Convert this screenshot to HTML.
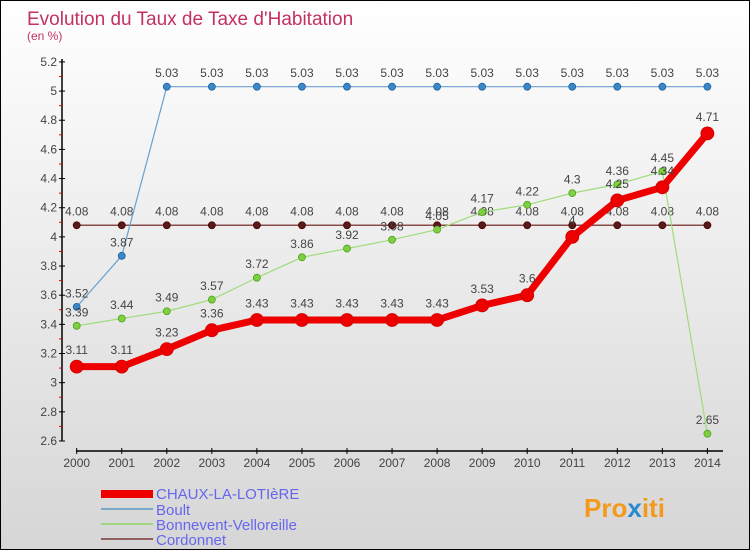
<!DOCTYPE html>
<html><head><meta charset="utf-8"><style>
body{margin:0}
#c{width:748px;height:548px;border:1px solid #000;position:relative;background:linear-gradient(#fff,#d6d6d6);font-family:"Liberation Sans",sans-serif;overflow:hidden}
</style></head><body>
<div id="c">
<svg id="s" width="748" height="548" xmlns="http://www.w3.org/2000/svg" font-family="Liberation Sans, sans-serif">
<text x="26" y="24" font-size="19" fill="#c3315f">Evolution du Taux de Taxe d'Habitation</text>
<text x="26" y="39" font-size="12" fill="#c3315f">(en %)</text>
<g id="g"></g>
<g>
<rect x="100" y="489" width="52" height="8" fill="#e00"/>
<text x="155" y="498" font-size="15" fill="#6666ee">CHAUX-LA-LOTIèRE</text>
<rect x="100" y="507" width="52" height="2" fill="#7aa8c8"/>
<text x="155" y="514" font-size="15" fill="#6666ee">Boult</text>
<rect x="100" y="522" width="52" height="2" fill="#9ed67e"/>
<text x="155" y="529" font-size="15" fill="#6666ee">Bonnevent-Velloreille</text>
<rect x="100" y="537" width="52" height="2" fill="#906060"/>
<text x="155" y="544" font-size="15" fill="#6666ee">Cordonnet</text>
</g>
<text x="583" y="516" font-size="26" font-weight="bold" fill="#f39a1e">Pro<tspan fill="#2a8ad0">x</tspan>iti</text>
</svg>
</div>
<script>
const years=[2000,2001,2002,2003,2004,2005,2006,2007,2008,2009,2010,2011,2012,2013,2014];
const chaux=[3.11,3.11,3.23,3.36,3.43,3.43,3.43,3.43,3.43,3.53,3.6,4,4.25,4.34,4.71];
const boult=[3.52,3.87,5.03,5.03,5.03,5.03,5.03,5.03,5.03,5.03,5.03,5.03,5.03,5.03,5.03];
const bonnevent=[3.39,3.44,3.49,3.57,3.72,3.86,3.92,3.98,4.05,4.17,4.22,4.3,4.36,4.45,2.65];
const cordonnet=[4.08,4.08,4.08,4.08,4.08,4.08,4.08,4.08,4.08,4.08,4.08,4.08,4.08,4.08,4.08];
const yTicks=[2.6,2.8,3,3.2,3.4,3.6,3.8,4,4.2,4.4,4.6,4.8,5,5.2];
const NS="http://www.w3.org/2000/svg";
const g=document.getElementById('g');
const xS=i=>75.7+i*45.05;
const yS=v=>440-(v-2.6)*145.8;
function el(t,a,p){const e=document.createElementNS(NS,t);for(const k in a)e.setAttribute(k,a[k]);(p||g).appendChild(e);return e;}
const fmt=v=>String(+v.toFixed(2));
// axes
let a=el('line',{x1:61,y1:58,x2:61,y2:440,stroke:'#000','stroke-width':1.5});


a=el('line',{x1:75,y1:450,x2:722,y2:450,stroke:'#000','stroke-width':1.5});


yTicks.forEach((v,i)=>{
 const y=yS(v);
 el('line',{x1:58,y1:y,x2:64,y2:y,stroke:'#000'});
 if(i<yTicks.length-1)el('line',{x1:58,y1:y-14.6,x2:61,y2:y-14.6,stroke:'#e00'});
 const t=el('text',{x:56,y:y+4,'font-size':12,fill:'#444','text-anchor':'end'});
 t.textContent=fmt(v);
 
 
});
years.forEach((yr,i)=>{
 const x=xS(i);
 el('line',{x1:x,y1:447,x2:x,y2:453,stroke:'#000'});
 const t=el('text',{x:x,y:466,'font-size':12,fill:'#444','text-anchor':'middle'});
 t.textContent=yr;
 
 
});
function series(name,data,color,w,r,dot,dotStroke){
 const pts=data.map((v,i)=>xS(i)+','+yS(v)).join(' ');
 const l=el('polyline',{points:pts,fill:'none',stroke:color,'stroke-width':w,'stroke-linejoin':'round'});
 
 
 data.forEach((v,i)=>{
  const c=el('circle',{cx:xS(i),cy:yS(v),r:r,fill:dot,stroke:dotStroke,'stroke-width':0.8});
  
  
  const t=el('text',{x:xS(i),y:yS(v)-(r+6),'font-size':12,fill:'#444','text-anchor':'middle'});
  t.textContent=fmt(v);
  
  
 });
}
series('cordonnet',cordonnet,'#8a4a4a',1.5,3.5,'#5a1a1a','#400');
series('boult',boult,'#6aa0d0',1.2,3.5,'#3a88c8','#2060a0');
series('bonnevent',bonnevent,'#9edc7a',1.2,3.5,'#7ed040','#50a020');
series('chaux',chaux,'#e00',7,6.5,'#e00','#c00');
</script>
</body></html>
